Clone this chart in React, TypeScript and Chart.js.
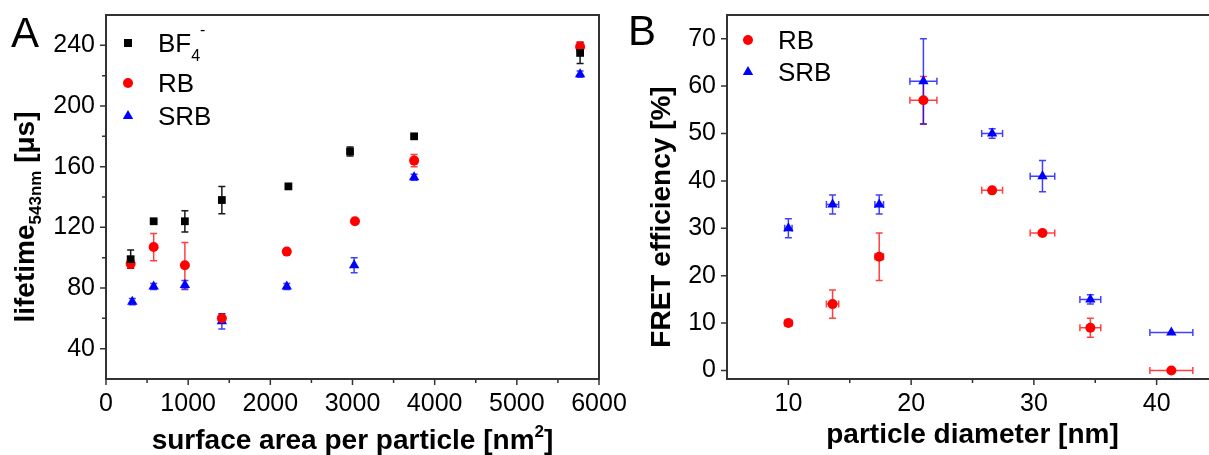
import React, { useEffect, useRef } from 'react';
import { Chart, registerables } from 'chart.js';
Chart.register(...registerables);

const FONT = '"Liberation Sans", Arial, Helvetica, sans-serif';

// ---------- Panel A data ----------
const areaTicks = [0, 1000, 2000, 3000, 4000, 5000, 6000];
const areaMinorTicks = [500, 1500, 2500, 3500, 4500, 5500];
const lifetimeTicks = [40, 80, 120, 160, 200, 240];
const lifetimeMinorTicks = [60, 100, 140, 180, 220];

const bf4Area = [300, 580, 960, 1410, 2220, 2970, 3750, 5770];
const bf4Lifetime = [99, 124, 124, 138, 147, 170, 180, 235];
const bf4LifetimeErr = [6, 1, 7, 9, 1, 3, 1, 7];

const rbArea = [300, 580, 960, 1410, 2200, 3030, 3750, 5770];
const rbLifetime = [96, 107, 95, 60, 104, 124, 164, 239];
const rbLifetimeErr = [3, 9, 15, 3, 1, 1, 4, 3];

const srbArea = [320, 580, 960, 1410, 2200, 3020, 3750, 5770];
const srbLifetime = [71, 81, 82, 58, 81, 95, 153, 221];
const srbLifetimeErr = [2, 2, 3, 5, 2, 5, 2, 2];

// ---------- Panel B data ----------
const diamTicks = [10, 20, 30, 40];
const diamMinorTicks = [15, 25, 35];
const fretTicks = [0, 10, 20, 30, 40, 50, 60, 70];

const diameters = [10, 13.6, 17.4, 21.0, 26.6, 30.7, 34.6, 41.2];
const diameterErr = [0.3, 0.5, 0.35, 1.1, 0.85, 1.0, 0.85, 1.75];
const rbFret = [10, 14, 24, 57, 38, 29, 9, 0];
const rbFretErr = [0.5, 3, 5, 5, 0.5, 0.5, 2, 0];
const srbFret = [30, 35, 35, 61, 50, 41, 15, 8];
const srbFretErr = [2, 2, 2, 9, 1, 3.3, 1, 0];

const BLACK = '#000000';
const RED = '#ff0000';
const BLUE = '#0000ff';

type Seg = { text: string; size: number; bold?: boolean; dy?: number };

function drawRich(ctx: CanvasRenderingContext2D, segs: Seg[], x: number, y: number, center: boolean) {
  let total = 0;
  const widths = segs.map((s) => {
    ctx.font = `${s.bold ? 'bold ' : ''}${s.size}px ${FONT}`;
    const w = ctx.measureText(s.text).width;
    total += w;
    return w;
  });
  let cx = center ? x - total / 2 : x;
  ctx.textAlign = 'left';
  ctx.textBaseline = 'alphabetic';
  segs.forEach((s, i) => {
    ctx.font = `${s.bold ? 'bold ' : ''}${s.size}px ${FONT}`;
    ctx.fillText(s.text, cx, y + (s.dy || 0));
    cx += widths[i];
  });
}

function drawMarker(ctx: CanvasRenderingContext2D, style: string, x: number, y: number, color: string) {
  ctx.fillStyle = color;
  ctx.beginPath();
  if (style === 'rect') {
    ctx.rect(x - 4, y - 4, 8, 8);
  } else if (style === 'circle') {
    ctx.arc(x, y, 5, 0, Math.PI * 2);
  } else {
    ctx.moveTo(x, y - 6);
    ctx.lineTo(x + 5.2, y + 3);
    ctx.lineTo(x - 5.2, y + 3);
    ctx.closePath();
  }
  ctx.fill();
}

type PanelCfg = {
  xMajor: number[];
  xMinor: number[];
  yMajor: number[];
  yMinor: number[];
  xTitle: Seg[];
  xTitlePos: [number, number];
  yTitle: Seg[];
  yTitlePos: [number, number];
  letter: string;
  letterPos: [number, number];
  legend: { style: string; color: string; segs: Seg[]; x: number; y: number; tx: number }[];
};

function makePanelPlugin(cfg: PanelCfg) {
  return {
    id: 'panel',
    beforeDatasetsDraw(chart: any) {
      const ctx: CanvasRenderingContext2D = chart.ctx;
      const xs = chart.scales.x;
      const ys = chart.scales.y;
      const cap = 3.5;
      chart.data.datasets.forEach((ds: any) => {
        ctx.save();
        ctx.strokeStyle = ds.errColor;
        ctx.lineWidth = 1.5;
        ds.data.forEach((p: any, i: number) => {
          const px = xs.getPixelForValue(p.x);
          const py = ys.getPixelForValue(p.y);
          const ye = ds.yErr ? ds.yErr[i] : 0;
          ctx.beginPath();
          if (ye > 0) {
            const t = ys.getPixelForValue(p.y + ye);
            const b = ys.getPixelForValue(p.y - ye);
            ctx.moveTo(px, t); ctx.lineTo(px, b);
            ctx.moveTo(px - cap, t); ctx.lineTo(px + cap, t);
            ctx.moveTo(px - cap, b); ctx.lineTo(px + cap, b);
          }
          const xe = ds.xErr ? ds.xErr[i] : 0;
          if (xe > 0) {
            const l = xs.getPixelForValue(p.x - xe);
            const r = xs.getPixelForValue(p.x + xe);
            ctx.moveTo(l, py); ctx.lineTo(r, py);
            ctx.moveTo(l, py - cap); ctx.lineTo(l, py + cap);
            ctx.moveTo(r, py - cap); ctx.lineTo(r, py + cap);
          }
          ctx.stroke();
        });
        ctx.restore();
      });
    },
    afterDraw(chart: any) {
      const ctx: CanvasRenderingContext2D = chart.ctx;
      const a = chart.chartArea;
      const xs = chart.scales.x;
      const ys = chart.scales.y;
      ctx.save();
      ctx.strokeStyle = '#333333';
      ctx.lineWidth = 2;
      ctx.strokeRect(a.left, a.top, a.right - a.left, a.bottom - a.top);
      ctx.lineWidth = 1.5;
      ctx.beginPath();
      cfg.xMajor.forEach((v) => {
        const p = xs.getPixelForValue(v);
        ctx.moveTo(p, a.bottom); ctx.lineTo(p, a.bottom + 6);
      });
      cfg.xMinor.forEach((v) => {
        const p = xs.getPixelForValue(v);
        ctx.moveTo(p, a.bottom); ctx.lineTo(p, a.bottom + 4);
      });
      cfg.yMajor.forEach((v) => {
        const p = ys.getPixelForValue(v);
        ctx.moveTo(a.left, p); ctx.lineTo(a.left - 6, p);
      });
      cfg.yMinor.forEach((v) => {
        const p = ys.getPixelForValue(v);
        ctx.moveTo(a.left, p); ctx.lineTo(a.left - 4, p);
      });
      ctx.stroke();

      ctx.fillStyle = '#000';
      drawRich(ctx, cfg.xTitle, cfg.xTitlePos[0], cfg.xTitlePos[1], true);
      ctx.save();
      ctx.translate(cfg.yTitlePos[0], cfg.yTitlePos[1]);
      ctx.rotate(-Math.PI / 2);
      ctx.fillStyle = '#000';
      drawRich(ctx, cfg.yTitle, 0, 0, true);
      ctx.restore();

      ctx.fillStyle = '#000';
      drawRich(ctx, [{ text: cfg.letter, size: 42 }], cfg.letterPos[0], cfg.letterPos[1], false);

      cfg.legend.forEach((it) => {
        drawMarker(ctx, it.style, it.x, it.y, it.color);
        ctx.fillStyle = '#000';
        drawRich(ctx, it.segs, it.tx, it.y + 9, false);
      });
      ctx.restore();
    },
  };
}

function ds(label: string, xs: number[], ys: number[], yErr: number[] | null, xErr: number[] | null,
  color: string, errColor: string, style: string, radius: number) {
  return {
    label,
    data: xs.map((x, i) => ({ x, y: ys[i] })),
    yErr,
    xErr,
    errColor,
    backgroundColor: color,
    borderColor: color,
    borderWidth: 0,
    pointStyle: style,
    pointRadius: radius,
    pointHoverRadius: radius,
    showLine: false,
  };
}

function makeConfig(opts: {
  datasets: any[];
  xMin: number; xMax: number; yMin: number; yMax: number;
  xTicks: number[]; yTicks: number[];
  leftW: number; rightPad: number;
  cfg: PanelCfg;
}): any {
  const tickFont = { family: FONT, size: 25 };
  return {
    type: 'scatter',
    data: { datasets: opts.datasets },
    options: {
      responsive: false,
      animation: false,
      devicePixelRatio: 1,
      events: [],
      layout: { padding: { left: 0, top: 15, right: opts.rightPad, bottom: 0 } },
      plugins: { legend: { display: false }, tooltip: { enabled: false }, title: { display: false } },
      scales: {
        x: {
          type: 'linear',
          min: opts.xMin,
          max: opts.xMax,
          grid: { display: false, drawTicks: false },
          border: { display: false },
          afterBuildTicks: (s: any) => { s.ticks = opts.xTicks.map((v) => ({ value: v })); },
          afterFit: (s: any) => { s.height = 76; s.paddingLeft = 0; s.paddingRight = 0; },
          ticks: {
            color: '#000', font: tickFont, padding: 10, maxRotation: 0, minRotation: 0, autoSkip: false,
            callback: (v: any) => String(v),
          },
        },
        y: {
          type: 'linear',
          min: opts.yMin,
          max: opts.yMax,
          grid: { display: false, drawTicks: false },
          border: { display: false },
          afterBuildTicks: (s: any) => { s.ticks = opts.yTicks.map((v) => ({ value: v })); },
          afterFit: (s: any) => { s.width = opts.leftW; s.paddingTop = 0; s.paddingBottom = 0; },
          ticks: {
            color: '#000', font: tickFont, padding: 11, autoSkip: false,
            callback: (v: any) => String(v),
          },
        },
      },
    },
    plugins: [makePanelPlugin(opts.cfg)],
  };
}

function ChartCanvas({ left, width, build }: { left: number; width: number; build: () => any }) {
  const ref = useRef<HTMLCanvasElement>(null);
  useEffect(() => {
    const chart = new Chart(ref.current as HTMLCanvasElement, build());
    return () => chart.destroy();
  }, []);
  return (
    <canvas
      ref={ref}
      width={width}
      height={455}
      style={{ position: 'absolute', left, top: 0, width, height: 455 }}
    />
  );
}

const ERR_BLACK = 'rgba(0,0,0,0.9)';
const ERR_RED = 'rgba(255,0,0,0.75)';
const ERR_BLUE = 'rgba(0,0,255,0.75)';

function buildA() {
  return makeConfig({
    datasets: [
      ds('BF4-', bf4Area, bf4Lifetime, bf4LifetimeErr, null, BLACK, ERR_BLACK, 'rect', 5.5),
      ds('RB', rbArea, rbLifetime, rbLifetimeErr, null, RED, ERR_RED, 'circle', 5),
      ds('SRB', srbArea, srbLifetime, srbLifetimeErr, null, BLUE, ERR_BLUE, 'triangle', 6),
    ],
    xMin: 0, xMax: 6000, yMin: 20, yMax: 260,
    xTicks: areaTicks, yTicks: lifetimeTicks,
    leftW: 106, rightPad: 41,
    cfg: {
      xMajor: areaTicks, xMinor: areaMinorTicks, yMajor: lifetimeTicks, yMinor: lifetimeMinorTicks,
      xTitle: [
        { text: 'surface area per particle [nm', size: 28, bold: true },
        { text: '2', size: 17, bold: true, dy: -12 },
        { text: ']', size: 28, bold: true },
      ],
      xTitlePos: [352.5, 449],
      yTitle: [
        { text: 'lifetime', size: 28, bold: true },
        { text: '543nm', size: 17, bold: true, dy: 7 },
        { text: ' [μs]', size: 28, bold: true },
      ],
      yTitlePos: [34, 217],
      letter: 'A',
      letterPos: [11, 47],
      legend: [
        { style: 'rect', color: BLACK, x: 128, y: 43, tx: 158, segs: [
          { text: 'BF', size: 26 }, { text: '4', size: 16, dy: 9 }, { text: '-', size: 16, dy: -17 },
        ] },
        { style: 'circle', color: RED, x: 128, y: 83, tx: 158, segs: [{ text: 'RB', size: 26 }] },
        { style: 'triangle', color: BLUE, x: 128, y: 116, tx: 158, segs: [{ text: 'SRB', size: 26 }] },
      ],
    },
  });
}

const B_LEFT = 610;

function buildB() {
  return makeConfig({
    datasets: [
      ds('RB', diameters, rbFret, rbFretErr, diameterErr, RED, ERR_RED, 'circle', 5),
      ds('SRB', diameters, srbFret, srbFretErr, diameterErr, BLUE, ERR_BLUE, 'triangle', 6),
    ],
    xMin: 5, xMax: 45, yMin: -1.8, yMax: 75,
    xTicks: diamTicks, yTicks: fretTicks,
    leftW: 727 - B_LEFT, rightPad: 640 - (1218 - B_LEFT),
    cfg: {
      xMajor: diamTicks, xMinor: diamMinorTicks, yMajor: fretTicks, yMinor: [],
      xTitle: [{ text: 'particle diameter [nm]', size: 28, bold: true }],
      xTitlePos: [972.5 - B_LEFT, 443],
      yTitle: [{ text: 'FRET efficiency [%]', size: 28, bold: true }],
      yTitlePos: [670 - B_LEFT, 217],
      letter: 'B',
      letterPos: [628 - B_LEFT, 45],
      legend: [
        { style: 'circle', color: RED, x: 748 - B_LEFT, y: 40, tx: 778 - B_LEFT, segs: [{ text: 'RB', size: 26 }] },
        { style: 'triangle', color: BLUE, x: 748 - B_LEFT, y: 72, tx: 778 - B_LEFT, segs: [{ text: 'SRB', size: 26 }] },
      ],
    },
  });
}

export default function App() {
  return (
    <div style={{ position: 'absolute', left: 0, top: 0, width: 1209, height: 455, overflow: 'hidden', background: '#fff' }}>
      <ChartCanvas left={0} width={640} build={buildA} />
      <ChartCanvas left={B_LEFT} width={640} build={buildB} />
    </div>
  );
}
